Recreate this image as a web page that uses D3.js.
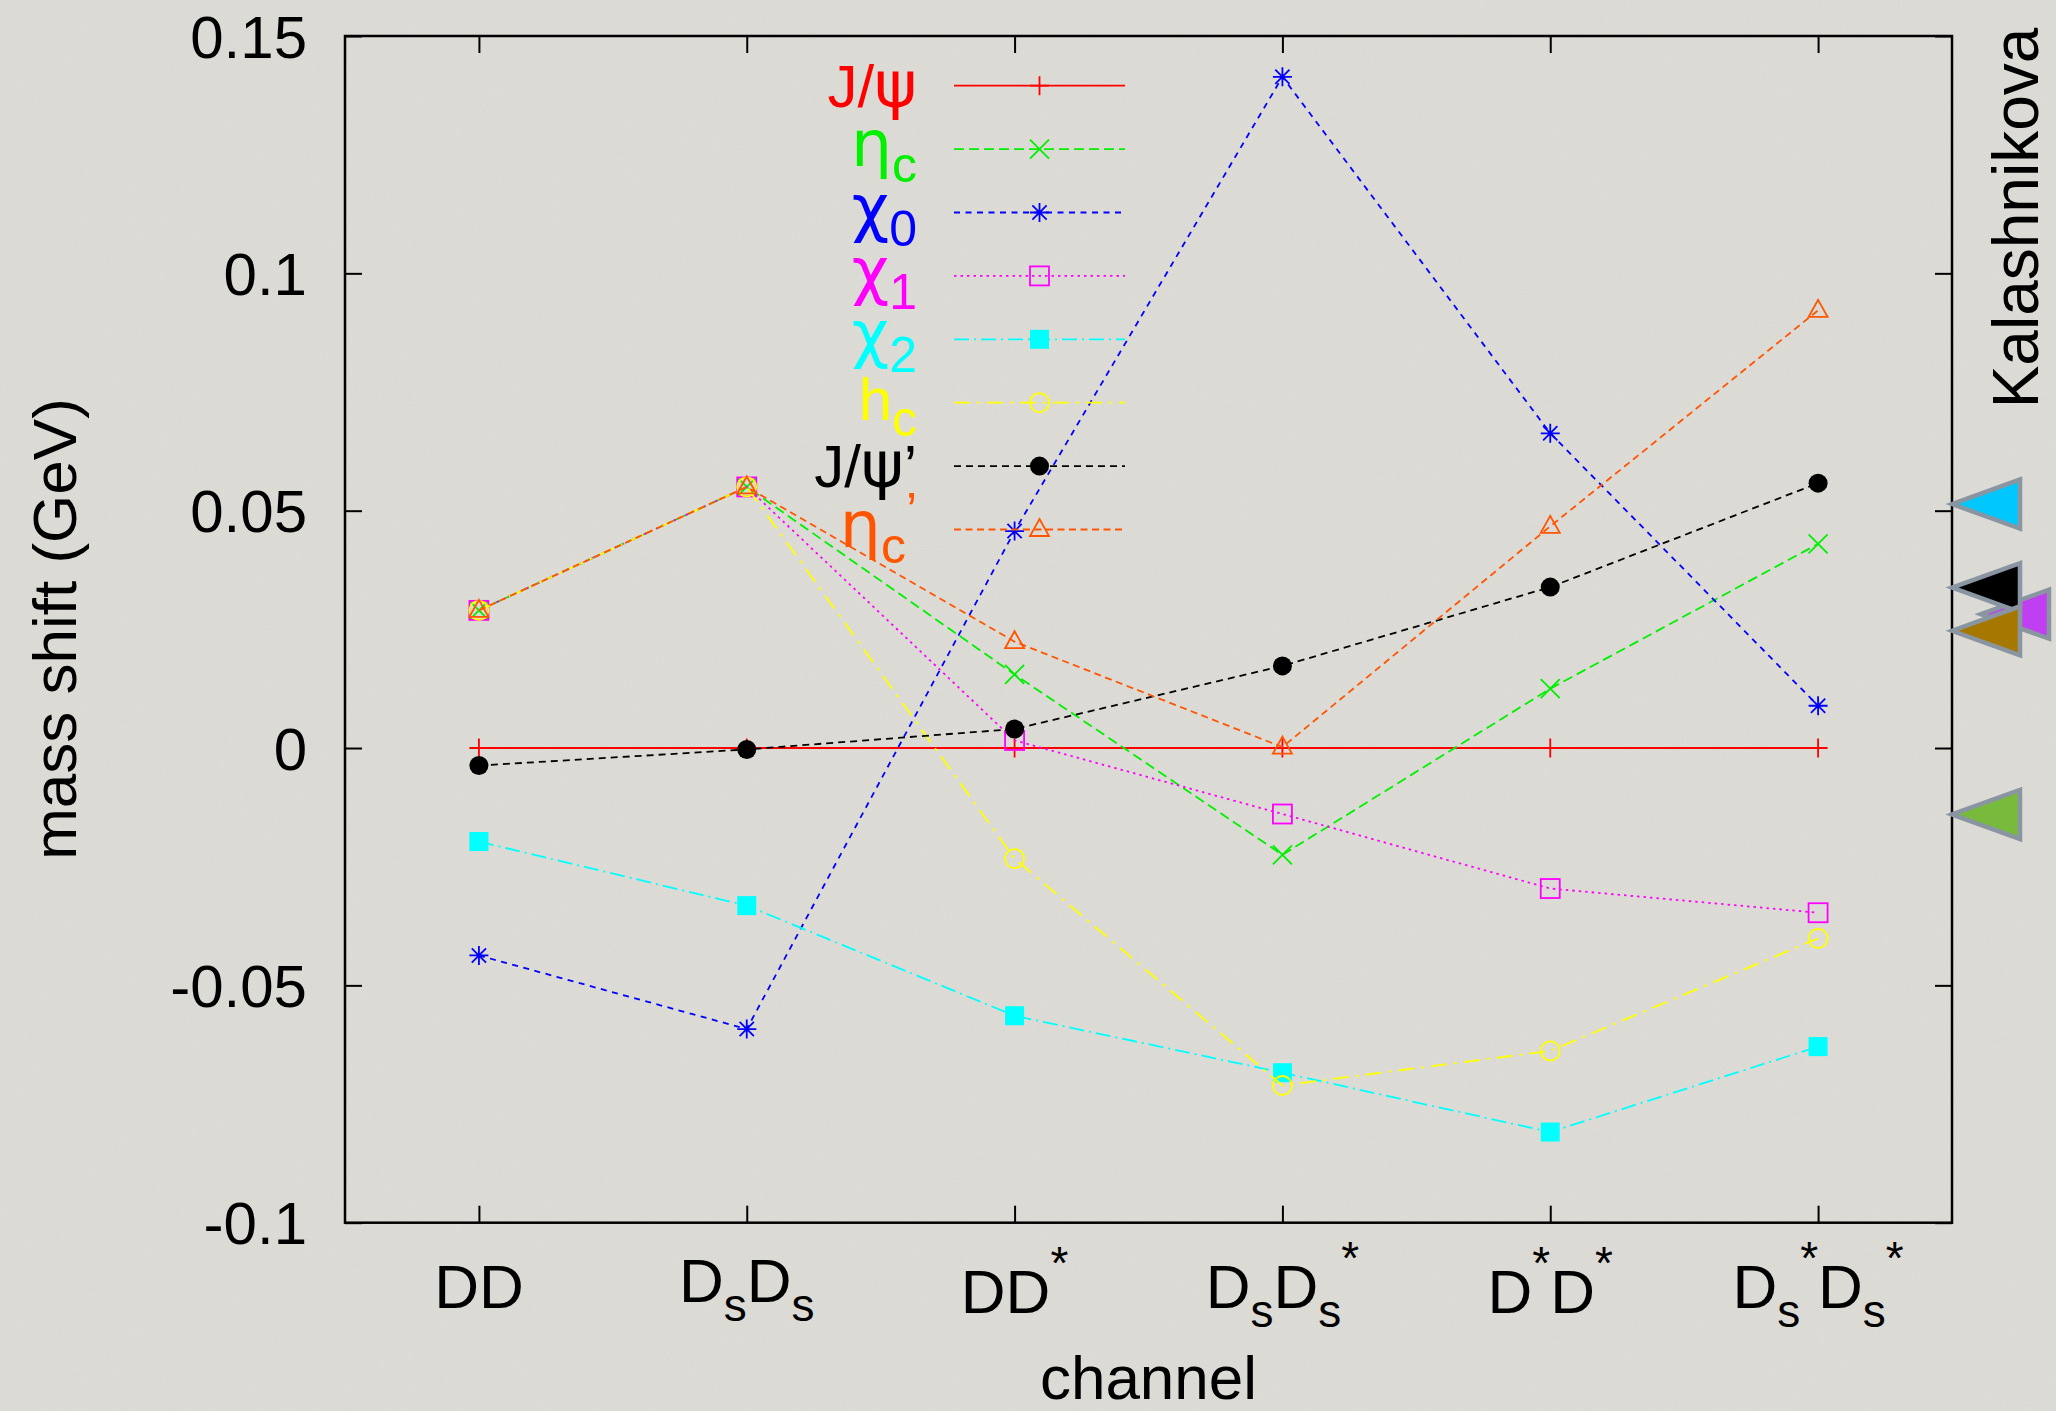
<!DOCTYPE html>
<html>
<head>
<meta charset="utf-8">
<script src="https://cdn.jsdelivr.net/npm/d3@7"></script>
<style>
  html, body { margin: 0; padding: 0; background: #dcdad4; }
  svg { display: block; }
</style>
</head>
<body>
<div id="chart"></div>
<script>
// channels on the x axis, gnuplot-style markup: _ subscript, ^ superscript
const categories = ['DD', 'D_sD_s', 'DD^*', 'D_sD_s^*', 'D^*D^*', 'D_s^*D_s^*']

const yTicks = [-0.1, -0.05, 0, 0.05, 0.1, 0.15]
const yTickLabels = ['-0.1', '-0.05', '0', '0.05', '0.1', '0.15']

// mass shift (GeV) per channel
const jpsi = [0, 0, 0, 0, 0, 0]
const etac = [0.029, 0.055, 0.0155, -0.0225, 0.0125, 0.043]
const chi0 = [-0.0437, -0.0592, 0.0457, 0.1414, 0.0663, 0.0089]
const chi1 = [0.029, 0.055, 0.0016, -0.0139, -0.0296, -0.0347]
const chi2 = [-0.0197, -0.0332, -0.0564, -0.0684, -0.0809, -0.0629]
const hc = [0.029, 0.055, -0.0233, -0.0711, -0.0638, -0.0401]
const jpsi2 = [-0.0037, -0.0003, 0.004, 0.0173, 0.0339, 0.0558]
const etac2 = [0.029, 0.055, 0.0224, 0.0002, 0.0467, 0.0922]

const seriesNames = ['J/ψ', 'η_c', 'χ_0', 'χ_1', 'χ_2', 'h_c', 'J/ψ’', 'η_c^’']
const seriesValues = [jpsi, etac, chi0, chi1, chi2, hc, jpsi2, etac2]

// Kalashnikova reference values (arrows on the right border)
const kalaValues = [0.0282, 0.0514, 0.0338, 0.0247, -0.014]
const kalaColors = ['#c03ff0', '#00c8ff', '#000000', '#a67800', '#78bb3c']
const kalaShift = [29, 0, 0, 0, 0]

const styles = [
  { color: '#ff0000', dash: null, marker: 'plus' },
  { color: '#00f000', dash: '10,5', marker: 'cross' },
  { color: '#0000ff', dash: '6,5.5', marker: 'star' },
  { color: '#ff00ff', dash: '2.5,4', marker: 'square' },
  { color: '#00ffff', dash: '15,5,2,5', marker: 'fsquare' },
  { color: '#ffff00', dash: '16,7,3,7', marker: 'circle' },
  { color: '#000000', dash: '7,5', marker: 'fcircle' },
  { color: '#ff5500', dash: '7,4.5', marker: 'triangle' }
]

const W = 2056
const H = 1411
const frame = { left: 345, right: 1952, top: 36, bottom: 1222.7 }
const SANS = '"Liberation Sans", Arial, Helvetica, sans-serif'
const GREEK = '"DejaVu Sans", "Liberation Sans", sans-serif'

const svg = d3.select('#chart').append('svg')
  .attr('width', W).attr('height', H)
  .attr('viewBox', `0 0 ${W} ${H}`)

const defs = svg.append('defs')
const paper = defs.append('filter').attr('id', 'paper').attr('x', 0).attr('y', 0).attr('width', 1).attr('height', 1)
paper.append('feTurbulence').attr('type', 'fractalNoise').attr('baseFrequency', 0.7).attr('numOctaves', 2).attr('seed', 4)
paper.append('feColorMatrix').attr('type', 'matrix')
  .attr('values', '0 0 0 0 0.45  0 0 0 0 0.44  0 0 0 0 0.42  0 0 0 0.14 -0.03')

svg.append('rect').attr('width', W).attr('height', H).attr('fill', '#dedcd6')
svg.append('rect').attr('width', W).attr('height', H).attr('filter', 'url(#paper)')

const x = d3.scalePoint().domain(categories).range([frame.left, frame.right]).padding(0.5)
const y = d3.scaleLinear().domain([-0.1, 0.15]).range([frame.bottom, frame.top])

// split markup into runs: normal / sub / sup
function parseMarkup(str) {
  const parts = []
  let i = 0
  while (i < str.length) {
    const c = str[i]
    if (c === '_' || c === '^') {
      parts.push({ text: str[i + 1], kind: c === '_' ? 'sub' : 'sup' })
      i += 2
    } else {
      const last = parts[parts.length - 1]
      if (last && last.kind === 'n') last.text += c
      else parts.push({ text: c, kind: 'n' })
      i++
    }
  }
  return parts
}

function isGreek(ch) {
  return /[\u0370-\u03ff]/.test(ch)
}

function writeMarkup(textSel, str, size, small, subShift, supShift) {
  let cur = 0
  parseMarkup(str).forEach((p) => {
    const target = p.kind === 'sub' ? subShift : p.kind === 'sup' ? -supShift : 0
    const fs = p.kind === 'n' ? size : small
    // greek letters come from a symbol font, a bit larger
    const runs = []
    for (const ch of p.text) {
      const g = isGreek(ch)
      const last = runs[runs.length - 1]
      if (last && last.greek === g) last.s += ch
      else runs.push({ s: ch, greek: g })
    }
    runs.forEach((r) => {
      textSel.append('tspan')
        .attr('dy', target - cur)
        .attr('font-size', r.greek ? fs * 1.08 : fs)
        .attr('font-family', r.greek ? GREEK : SANS)
        .text(r.s)
      cur = target
    })
  })
}

function drawMarker(g, type, cx, cy, color) {
  const s = 9.5
  let el
  switch (type) {
    case 'plus':
      el = g.append('path').attr('d', `M${cx - s},${cy}H${cx + s}M${cx},${cy - s}V${cy + s}`)
      break
    case 'cross':
      el = g.append('path').attr('d', `M${cx - s},${cy - s}L${cx + s},${cy + s}M${cx - s},${cy + s}L${cx + s},${cy - s}`)
      break
    case 'star':
      el = g.append('path').attr('d',
        `M${cx - s},${cy}H${cx + s}M${cx},${cy - s}V${cy + s}` +
        `M${cx - s * 0.75},${cy - s * 0.75}L${cx + s * 0.75},${cy + s * 0.75}` +
        `M${cx - s * 0.75},${cy + s * 0.75}L${cx + s * 0.75},${cy - s * 0.75}`)
      break
    case 'square':
    case 'fsquare':
      el = g.append('rect').attr('x', cx - s).attr('y', cy - s).attr('width', 2 * s).attr('height', 2 * s)
      break
    case 'circle':
    case 'fcircle':
      el = g.append('circle').attr('cx', cx).attr('cy', cy).attr('r', s)
      break
    case 'triangle':
      el = g.append('path').attr('d', `M${cx},${cy - 10.5}L${cx + s},${cy + 6.5}L${cx - s},${cy + 6.5}Z`)
      break
  }
  el.attr('fill', 'none').attr('stroke', color).attr('stroke-width', 1.8)
  if (type === 'fsquare' || type === 'fcircle') el.attr('fill', color).attr('stroke', 'none')
}

// axes: ticks pointing into the frame on all four sides
function styleAxis(g) {
  g.select('.domain').remove()
  g.selectAll('.tick line').attr('stroke', '#000').attr('stroke-width', 2)
}

svg.append('g')
  .attr('transform', `translate(${frame.left},0)`)
  .call(d3.axisLeft(y).tickValues(yTicks).tickFormat((d, i) => yTickLabels[i]).tickSize(-17).tickSizeOuter(0).tickPadding(38))
  .call(styleAxis)
  .attr('font-size', 60)
  .attr('font-family', SANS)
  .selectAll('text')
  .attr('fill', '#000')
  .attr('dy', '0.35em')

svg.append('g')
  .attr('transform', `translate(${frame.right},0)`)
  .call(d3.axisRight(y).tickValues(yTicks).tickFormat('').tickSize(-17).tickSizeOuter(0))
  .call(styleAxis)

svg.append('g')
  .attr('transform', `translate(0,${frame.top})`)
  .call(d3.axisTop(x).tickFormat('').tickSize(-17).tickSizeOuter(0))
  .call(styleAxis)

svg.append('g')
  .attr('transform', `translate(0,${frame.bottom})`)
  .call(d3.axisBottom(x).tickFormat('').tickSize(-17).tickSizeOuter(0))
  .call(styleAxis)

svg.append('rect')
  .attr('x', frame.left).attr('y', frame.top)
  .attr('width', frame.right - frame.left).attr('height', frame.bottom - frame.top)
  .attr('fill', 'none').attr('stroke', '#000').attr('stroke-width', 2.5)

// channel labels
categories.forEach((c) => {
  const hasSub = c.includes('_')
  const hasSup = c.includes('^')
  const base = hasSub && !hasSup ? 1302 : hasSup && !hasSub ? 1313 : 1308
  const t = svg.append('text')
    .attr('x', x(c)).attr('y', base)
    .attr('text-anchor', 'middle').attr('fill', '#000')
  writeMarkup(t, c, 62, 46, 19, 34)
})

svg.append('text')
  .attr('x', (frame.left + frame.right) / 2).attr('y', 1399)
  .attr('text-anchor', 'middle').attr('font-family', SANS).attr('font-size', 62)
  .text('channel')

svg.append('text')
  .attr('transform', 'translate(76,629) rotate(-90)')
  .attr('text-anchor', 'middle').attr('font-family', SANS).attr('font-size', 62)
  .text('mass shift (GeV)')

// series with key entries
const key = { textX: 917, lineX1: 954, lineX2: 1125, top: 85.7, step: 63.4 }
const line = d3.line().x((d, i) => x(categories[i])).y((d) => y(d))

seriesValues.forEach((values, si) => {
  const st = styles[si]
  const g = svg.append('g')
  const ky = key.top + si * key.step
  const hasSub = seriesNames[si].includes('_')

  const label = g.append('text')
    .attr('x', key.textX).attr('y', ky + (hasSub ? 17 : 21))
    .attr('text-anchor', 'end').attr('fill', st.color)
  writeMarkup(label, seriesNames[si], 60, 50, 16, 19)

  g.append('line')
    .attr('x1', key.lineX1).attr('x2', key.lineX2).attr('y1', ky).attr('y2', ky)
    .attr('stroke', st.color).attr('stroke-width', 1.8)
    .attr('stroke-dasharray', st.dash)
  drawMarker(g, st.marker, (key.lineX1 + key.lineX2) / 2, ky, st.color)

  g.append('path')
    .attr('d', line(values))
    .attr('fill', 'none').attr('stroke', st.color).attr('stroke-width', 1.8)
    .attr('stroke-dasharray', st.dash)

  values.forEach((v, i) => drawMarker(g, st.marker, x(categories[i]), y(v), st.color))
})

// Kalashnikova arrows
kalaValues.forEach((v, i) => {
  const tipX = frame.right + kalaShift[i]
  const ty = y(v)
  svg.append('path')
    .attr('d', `M${tipX},${ty}L${tipX + 68},${ty - 24.5}L${tipX + 68},${ty + 24.5}Z`)
    .attr('fill', kalaColors[i])
    .attr('stroke', '#8a95a2').attr('stroke-width', 4.5).attr('stroke-linejoin', 'miter')
})

svg.append('text')
  .attr('transform', 'translate(2038,218) rotate(-90)')
  .attr('text-anchor', 'middle').attr('font-family', SANS).attr('font-size', 64)
  .text('Kalashnikova')
</script>
</body>
</html>
